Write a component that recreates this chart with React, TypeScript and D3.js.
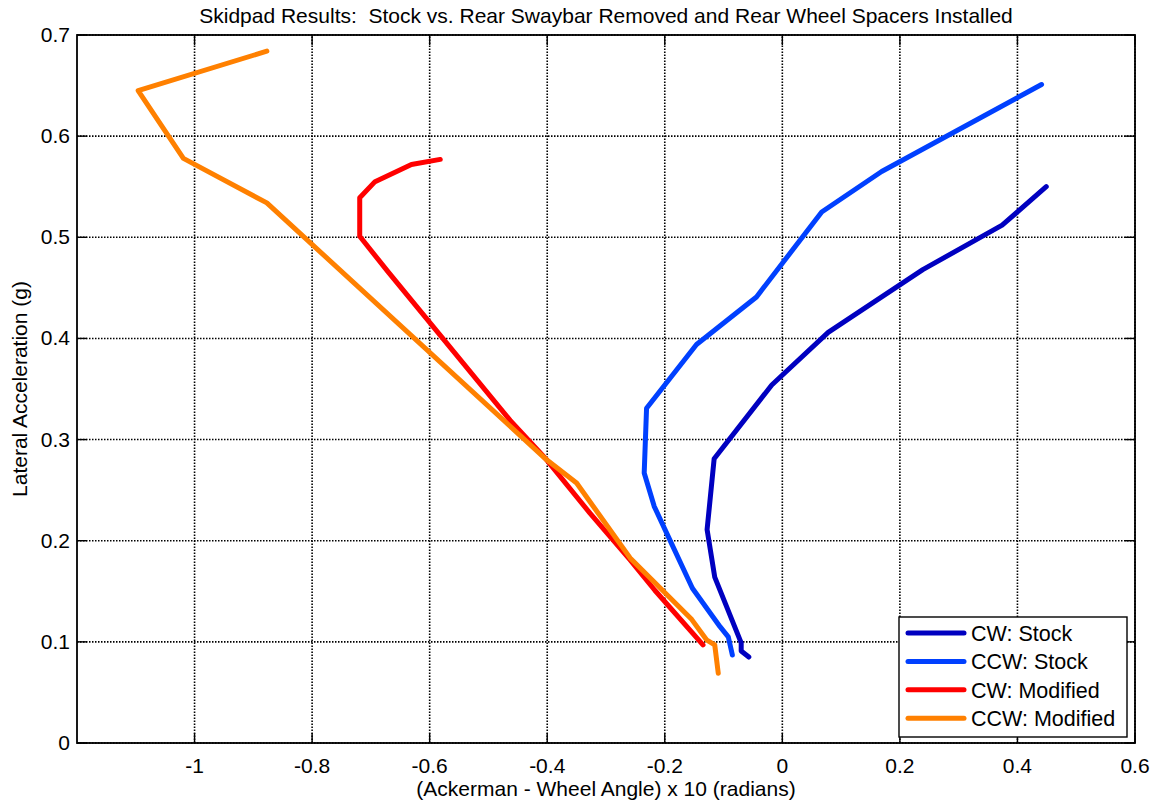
import React from 'react';
import * as d3 from 'd3';

// values: [x, y] = [(ackerman - wheel angle) x 10, lateral g]
const cwStock: [number, number][] = [
  [-0.057, 0.085], [-0.070, 0.091], [-0.070, 0.099], [-0.115, 0.164], [-0.128, 0.211],
  [-0.116, 0.281], [-0.018, 0.354], [0.078, 0.406], [0.239, 0.468], [0.374, 0.512], [0.449, 0.550]
];
const ccwStock: [number, number][] = [
  [-0.085, 0.087], [-0.092, 0.105], [-0.106, 0.115], [-0.153, 0.153], [-0.194, 0.204],
  [-0.218, 0.234], [-0.235, 0.267], [-0.231, 0.331], [-0.146, 0.394], [-0.044, 0.441],
  [0.067, 0.525], [0.169, 0.565], [0.441, 0.651]
];
const cwModified: [number, number][] = [
  [-0.582, 0.577], [-0.631, 0.572], [-0.693, 0.555], [-0.719, 0.539], [-0.719, 0.501],
  [-0.671, 0.466], [-0.463, 0.319], [-0.401, 0.280], [-0.327, 0.227], [-0.259, 0.181],
  [-0.217, 0.151], [-0.135, 0.097]
];
const ccwModified: [number, number][] = [
  [-0.877, 0.684], [-1.096, 0.645], [-1.019, 0.578], [-0.877, 0.534], [-0.401, 0.280],
  [-0.350, 0.257], [-0.259, 0.183], [-0.154, 0.122], [-0.129, 0.102], [-0.115, 0.097],
  [-0.109, 0.069]
];

const seriesNames = ['CW: Stock', 'CCW: Stock', 'CW: Modified', 'CCW: Modified'];
const seriesColors = ['#0000C0', '#0040FF', '#FF0000', '#FF8000'];
const seriesData = [cwStock, ccwStock, cwModified, ccwModified];

const xTicks = [-1, -0.8, -0.6, -0.4, -0.2, 0, 0.2, 0.4, 0.6];
const yTicks = [0, 0.1, 0.2, 0.3, 0.4, 0.5, 0.6, 0.7];

const title = 'Skidpad Results:  Stock vs. Rear Swaybar Removed and Rear Wheel Spacers Installed';
const xLabel = '(Ackerman - Wheel Angle) x 10 (radians)';
const yLabel = 'Lateral Acceleration (g)';

const W = 1153;
const H = 803;
const margin = { top: 35, right: 18, bottom: 60, left: 77 };
const font = '"Liberation Sans", Arial, Helvetica, sans-serif';

export default function App() {
  const x = d3.scaleLinear().domain([-1.2, 0.6]).range([margin.left, W - margin.right]);
  const y = d3.scaleLinear().domain([0, 0.7]).range([H - margin.bottom, margin.top]);
  const [x0, x1] = x.range();
  const [y0, y1] = y.range(); // y0 bottom, y1 top
  const tick = 10;

  const line = d3.line<[number, number]>()
    .x(d => x(d[0]))
    .y(d => y(d[1]));

  const legend = { x: x1 - 236, y: y0 - 126, w: 228, h: 120 };

  return (
    <svg width={W} height={H} style={{ position: 'absolute', left: 0, top: 0, background: '#fff' }}
      fontFamily={font}>
      <rect x={0} y={0} width={W} height={H} fill="#fff" />

      {/* grid */}
      <g stroke="#000" strokeWidth={1.6} strokeDasharray="1.5,1.5">
        {xTicks.map(t => (
          <line key={`gx${t}`} x1={x(t)} x2={x(t)} y1={y0} y2={y1} />
        ))}
        {yTicks.map(t => (
          <line key={`gy${t}`} x1={x0} x2={x1} y1={y(t)} y2={y(t)} />
        ))}
      </g>

      {/* ticks, inside on all four sides */}
      <g stroke="#000" strokeWidth={1.4}>
        {xTicks.map(t => (
          <g key={`tx${t}`}>
            <line x1={x(t)} x2={x(t)} y1={y0} y2={y0 - tick} />
            <line x1={x(t)} x2={x(t)} y1={y1} y2={y1 + tick} />
          </g>
        ))}
        {yTicks.map(t => (
          <g key={`ty${t}`}>
            <line x1={x0} x2={x0 + tick} y1={y(t)} y2={y(t)} />
            <line x1={x1} x2={x1 - tick} y1={y(t)} y2={y(t)} />
          </g>
        ))}
      </g>

      {/* data */}
      <g fill="none" strokeWidth={5} strokeLinecap="round" strokeLinejoin="round">
        {seriesData.map((s, i) => (
          <path key={seriesNames[i]} d={line(s) || ''} stroke={seriesColors[i]} />
        ))}
      </g>

      {/* box */}
      <rect x={x0} y={y1} width={x1 - x0} height={y0 - y1} fill="none" stroke="#000" strokeWidth={1.8} />

      {/* tick labels */}
      <g fontSize={21} fill="#000">
        {xTicks.map(t => (
          <text key={`lx${t}`} x={x(t)} y={y0 + 30} textAnchor="middle">{String(t)}</text>
        ))}
        {yTicks.map(t => (
          <text key={`ly${t}`} x={x0 - 7} y={y(t) + 7} textAnchor="end">{String(t)}</text>
        ))}
      </g>

      {/* titles */}
      <text x={(x0 + x1) / 2} y={23} textAnchor="middle" fontSize={21} style={{ whiteSpace: 'pre' }}>{title}</text>
      <text x={(x0 + x1) / 2} y={H - 7} textAnchor="middle" fontSize={21}>{xLabel}</text>
      <text transform={`translate(27, ${(y0 + y1) / 2}) rotate(-90)`} textAnchor="middle" fontSize={21}>{yLabel}</text>

      {/* legend */}
      <g>
        <rect x={legend.x} y={legend.y} width={legend.w} height={legend.h} fill="#fff" stroke="#000" strokeWidth={1.4} />
        {seriesNames.map((n, i) => {
          const ly = legend.y + 16 + i * 28.4;
          return (
            <g key={n}>
              <line x1={legend.x + 9} x2={legend.x + 65} y1={ly} y2={ly} stroke={seriesColors[i]} strokeWidth={5} strokeLinecap="round" />
              <text x={legend.x + 72} y={ly + 8} fontSize={21.5}>{n}</text>
            </g>
          );
        })}
      </g>
    </svg>
  );
}
